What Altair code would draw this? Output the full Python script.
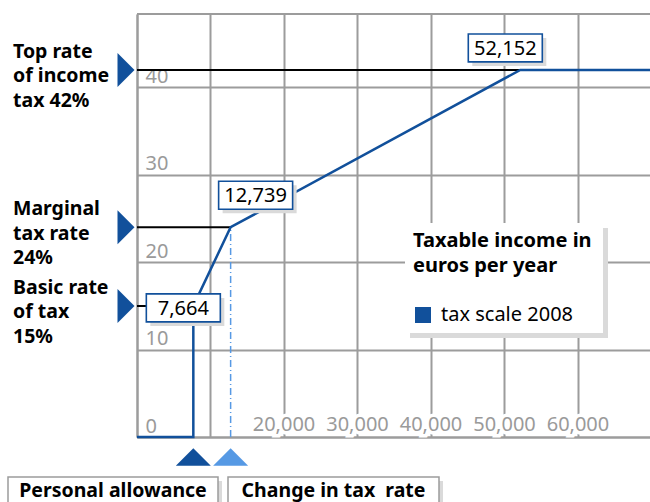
import altair as alt
import pandas as pd

# ---- data -------------------------------------------------------------
curve_income = [0, 7664, 7664, 12739, 52152, 69800]
curve_rate = [0, 0, 15, 24, 42, 42]

thresholds = [7664, 12739, 52152]
rates = [15, 24, 42]
threshold_labels = ["7,664", "12,739", "52,152"]
rate_labels = ["Basic rate\nof tax\n15%", "Marginal\ntax rate\n24%", "Top rate\nof income\ntax 42%"]

x_ticks = [0, 10000, 20000, 30000, 40000, 50000, 60000]
x_labels = [20000, 30000, 40000, 50000, 60000]
y_ticks = [0, 10, 20, 30, 40]
series_name = "tax scale 2008"

bottom_labels = ["Personal allowance", "Change in tax\u00a0 rate"]

# ---- styles -----------------------------------------------------------
BLUE = "#11509b"
LIGHT = "#5699e4"
GRID = "#9c9c9c"
SHADOW = "#dadada"
FONT = "Noto Sans"

X = alt.Scale(domain=[0, 69800], nice=False, zero=False)
Y = alt.Scale(domain=[0, 48.4], nice=False, zero=False)

curve = pd.DataFrame({"income": curve_income, "rate": curve_rate,
                      "i": list(range(len(curve_income))),
                      "series": [series_name] * len(curve_income)})
thr = pd.DataFrame({"income": thresholds, "rate": rates, "start": [0] * 3,
                    "label": threshold_labels, "text": rate_labels})
xl = pd.DataFrame({"v": x_labels})

base_x = alt.X("income:Q", scale=X,
               axis=alt.Axis(values=x_ticks, labels=False, ticks=False, grid=True,
                             domain=True, title=None, gridColor=GRID, gridWidth=2,
                             domainColor=GRID, domainWidth=2))
base_y = alt.Y("rate:Q", scale=Y,
               axis=alt.Axis(values=y_ticks, grid=True, ticks=False, domain=True,
                             title=None, labelAlign="left", labelPadding=-8,
                             labelBaseline="alphabetic", labelOffset=-5,
                             labelFontSize=20, labelColor="#9a9a9a", labelFont=FONT,
                             labelFlush=False, gridColor=GRID, gridWidth=2,
                             domainColor=GRID, domainWidth=2))

# legend box with shadow (decoration)
legend_shadow = alt.Chart(thr.head(1)).mark_rect(color=SHADOW).encode(
    x=alt.value(273), x2=alt.value(471), y=alt.value(214), y2=alt.value(324))
legend_box = alt.Chart(thr.head(1)).mark_rect(color="white").encode(
    x=alt.value(268), x2=alt.value(466), y=alt.value(209), y2=alt.value(319))

rules = alt.Chart(thr).mark_rule(color="black", strokeWidth=2).encode(
    x=base_x, x2="start:Q", y=base_y)

dotted = alt.Chart(thr.iloc[[1]]).mark_rule(color=LIGHT, strokeWidth=1.5,
                                             strokeDash=[7, 3, 1, 3]).encode(
    x=alt.X("income:Q", scale=X), y=alt.Y("start:Q", scale=Y),
    y2="rate:Q")

line = alt.Chart(curve).mark_line(strokeWidth=2.5).encode(
    x=alt.X("income:Q", scale=X), y=alt.Y("rate:Q", scale=Y),
    order="i:Q",
    color=alt.Color("series:N", scale=alt.Scale(range=[BLUE]),
                    legend=alt.Legend(
                        title=["Taxable income in", "euros per year"],
                        orient="none", legendX=268, legendY=209, padding=8,
                        titleFont=FONT, titleFontSize=20, titleFontWeight="bold",
                        titleColor="black", titleLineHeight=25, titlePadding=29,
                        labelFont=FONT, labelFontSize=20, labelColor="black",
                        labelOffset=8, symbolType="square", symbolSize=64,
                        symbolStrokeWidth=8, symbolFillColor=BLUE)))

left_tri = alt.Chart(thr).mark_point(
    shape="M-0.5,-1L0.5,0L-0.5,1Z", filled=True, color=BLUE, size=1156, opacity=1
).encode(x=alt.value(-11), y=alt.Y("rate:Q", scale=Y))

left_text = alt.Chart(thr).mark_text(
    align="left", baseline="middle", lineBreak="\n", lineHeight=24.5,
    font=FONT, fontSize=19.5, fontWeight="bold", color="black", dy=-18
).encode(x=alt.value(-124), y=alt.Y("rate:Q", scale=Y), text="text:N")

bottom_dark = alt.Chart(thr.iloc[[0]]).mark_point(
    shape="M-1,0.5L0,-0.5L1,0.5Z", filled=True, color=BLUE, size=1225, opacity=1
).encode(x=alt.X("income:Q", scale=X), y=alt.value(443))
bottom_light = alt.Chart(thr.iloc[[1]]).mark_point(
    shape="M-1,0.5L0,-0.5L1,0.5Z", filled=True, color=LIGHT, size=1225, opacity=1
).encode(x=alt.X("income:Q", scale=X), y=alt.value(443))

BOX = "M-1,-0.378L1,-0.378L1,0.378L-1,0.378Z"
offsets = [(-10, 2), (25, -32), (-15, -22)]
value_layers = []
for k, (dx, dy) in enumerate(offsets):
    d = alt.Chart(thr.iloc[[k]])
    enc = dict(x=alt.X("income:Q", scale=X), y=alt.Y("rate:Q", scale=Y))
    value_layers.append(d.mark_point(shape=BOX, size=5476, filled=True, color=SHADOW,
                                     opacity=1, xOffset=dx + 4, yOffset=dy + 4).encode(**enc))
    value_layers.append(d.mark_point(shape=BOX, size=5476, filled=True, fill="white",
                                     stroke=BLUE, strokeWidth=1.6, opacity=1,
                                     xOffset=dx, yOffset=dy).encode(**enc))
    value_layers.append(d.mark_text(font=FONT, fontSize=20, color="black",
                                    align="center", baseline="middle",
                                    dx=dx, dy=dy + 1).encode(text="label:N", **enc))

xlab_halo = alt.Chart(xl).mark_text(
    font=FONT, fontSize=20, align="center", baseline="alphabetic", dy=-6,
    fill="white", stroke="white", strokeWidth=7
).encode(x=alt.X("v:Q", scale=X), y=alt.datum(0, scale=Y),
         text=alt.Text("v:Q", format=","))
xlab = alt.Chart(xl).mark_text(
    font=FONT, fontSize=20, align="center", baseline="alphabetic", dy=-6,
    color="#9a9a9a"
).encode(x=alt.X("v:Q", scale=X), y=alt.datum(0, scale=Y),
         text=alt.Text("v:Q", format=","))

bl = pd.DataFrame({"t": bottom_labels})
box_layers = []
for k, (x0, x1) in enumerate([(-129, 81), (91, 302)]):
    d = alt.Chart(bl.iloc[[k]])
    box_layers.append(d.mark_rect(color=SHADOW).encode(
        x=alt.value(x0 + 4), x2=alt.value(x1 + 4), y=alt.value(467), y2=alt.value(500)))
    box_layers.append(d.mark_rect(fill="white", stroke=GRID, strokeWidth=1.5).encode(
        x=alt.value(x0), x2=alt.value(x1), y=alt.value(463), y2=alt.value(500)))
    box_layers.append(d.mark_text(font=FONT, fontSize=19.5, fontWeight="bold", color="black",
                                  align="center", baseline="alphabetic").encode(
        x=alt.value((x0 + x1) / 2), y=alt.value(483), text="t:N"))

top_border = alt.Chart(thr.head(1)).mark_rule(color=GRID, strokeWidth=2).encode(
    y=alt.value(0))

chart = alt.layer(
    legend_shadow, legend_box, rules, dotted, line, left_tri, left_text,
    bottom_dark, bottom_light,
    *value_layers, xlab_halo, xlab, *box_layers, top_border
).properties(
    width=513, height=423,
    autosize=alt.AutoSizeParams(type="none"),
    padding={"left": 137, "top": 14, "right": 0, "bottom": 65},
).configure_view(stroke=None).configure(font=FONT)

chart.save("out.html", embed_options={"renderer": "svg", "actions": False})
